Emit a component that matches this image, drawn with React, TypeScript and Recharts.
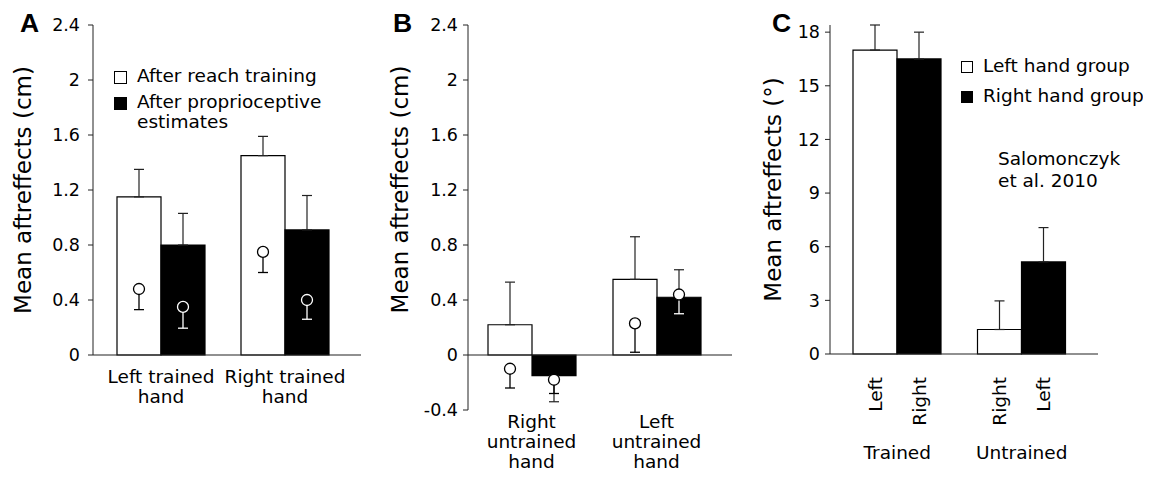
import React from 'react';
import {
  ComposedChart,
  Bar,
  XAxis,
  YAxis,
  ErrorBar,
  LabelList,
  ReferenceLine,
  Legend,
} from 'recharts';

const SANS = '"DejaVu Sans", sans-serif';
const ARIAL = '"Liberation Sans", Arial, sans-serif';
const INK = '#222';
const BAR_W = 44;

// panel A: trained hand
const groupsA = ['Left trained\nhand', 'Right trained\nhand'];
const reachA = [1.15, 1.45];
const reachErrA = [0.2, 0.14];
const propA = [0.8, 0.91];
const propErrA = [0.23, 0.25];
const reachDotA = [0.48, 0.75];
const reachDotErrA = [0.15, 0.15];
const propDotA = [0.35, 0.4];
const propDotErrA = [0.155, 0.14];
const ticksA = [0, 0.4, 0.8, 1.2, 1.6, 2, 2.4];
const legendA = ['After reach training', 'After proprioceptive\nestimates'];

// panel B: untrained hand
const groupsB = ['Right\nuntrained\nhand', 'Left\nuntrained\nhand'];
const reachB = [0.22, 0.55];
const reachErrB = [0.31, 0.31];
const propB = [-0.15, 0.42];
const propErrB = [0.19, 0.2];
const reachDotB = [-0.1, 0.23];
const reachDotErrB = [0.14, 0.21];
const propDotB = [-0.18, 0.44];
const propDotErrB = [0.1, 0.14];
const ticksB = [-0.4, 0, 0.4, 0.8, 1.2, 1.6, 2, 2.4];

// panel C: Salomonczyk et al. 2010
const groupsC = ['Trained', 'Untrained'];
const handsC = [
  ['Left', 'Right'],
  ['Right', 'Left'],
];
const leftGroupC = [17.0, 1.37];
const leftGroupErrC = [1.4, 1.6];
const rightGroupC = [16.5, 5.15];
const rightGroupErrC = [1.5, 1.92];
const ticksC = [0, 3, 6, 9, 12, 15, 18];
const legendC = ['Left hand group', 'Right hand group'];
const noteC = ['Salomonczyk', 'et al. 2010'];

const upErr = (v: number, e: number) => (v >= 0 ? [0, e] : [e, 0]);
const within = (v: number, bar: number) =>
  bar >= 0 ? v >= 0 && v <= bar : v <= 0 && v >= bar;

// dot fields, split by whether the dot / its whisker sits inside its bar
function dotFields(key: string, v: number, e: number, bar: number) {
  const inside = within(v, bar);
  const errIn = within(v - e, bar);
  return {
    [key]: v,
    [key + 'In']: inside ? v : null,
    [key + 'Out']: inside ? null : v,
    [key + 'ErrIn']: errIn ? [e, 0] : null,
    [key + 'ErrOut']: errIn ? null : [e, 0],
  };
}

function buildRows(groups: string[], reach: number[], reachErr: number[], prop: number[], propErr: number[],
  reachDot: number[], reachDotErr: number[], propDot: number[], propDotErr: number[]) {
  return groups.map((group, i) => ({
    group,
    reach: reach[i],
    reachErr: upErr(reach[i], reachErr[i]),
    prop: prop[i],
    propErr: upErr(prop[i], propErr[i]),
    ...dotFields('reachDot', reachDot[i], reachDotErr[i], reach[i]),
    ...dotFields('propDot', propDot[i], propDotErr[i], prop[i]),
  }));
}

const rowsA = buildRows(groupsA, reachA, reachErrA, propA, propErrA, reachDotA, reachDotErrA, propDotA, propDotErrA);
const rowsB = buildRows(groupsB, reachB, reachErrB, propB, propErrB, reachDotB, reachDotErrB, propDotB, propDotErrB);
const rowsC = groupsC.map((group, i) => ({
  group,
  left: leftGroupC[i],
  leftErr: upErr(leftGroupC[i], leftGroupErrC[i]),
  right: rightGroupC[i],
  rightErr: upErr(rightGroupC[i], rightGroupErrC[i]),
}));

const noShape = () => <g />;

// circle drawn as a label so it sits above every error bar
function dotLabel(fill: string, stroke: string) {
  return (props: any) => {
    if (props.value == null || props.value === '') return null;
    const v = Number(props.value);
    if (Number.isNaN(v)) return null;
    const vb = props.viewBox || props;
    const h = vb.height;
    const cy = v >= 0 ? (h >= 0 ? vb.y : vb.y + h) : h < 0 ? vb.y : vb.y + h;
    const cx = vb.x + vb.width / 2;
    return <circle cx={cx} cy={cy} r={5.5} fill={fill} stroke={stroke} strokeWidth={1.3} />;
  };
}

function AxisTitle({ viewBox, text, dx, dy = 0 }: any) {
  const x = viewBox.x + dx;
  const y = viewBox.y + viewBox.height / 2 + dy;
  return (
    <text x={x} y={y} transform={`rotate(-90 ${x} ${y})`} textAnchor="middle" dominantBaseline="central"
      fontFamily={SANS} fontSize={23} fill="#000">
      {text}
    </text>
  );
}

function StackedTick({ x, y, payload, offsets }: any) {
  const lines = String(payload.value).split('\n');
  return (
    <text x={x} y={y} textAnchor="middle" fontFamily={SANS} fontSize={18.5} fill="#000">
      {lines.map((line, i) => (
        <tspan key={i} x={x} dy={offsets[Math.min(i, offsets.length - 1)]}>
          {line}
        </tspan>
      ))}
    </text>
  );
}

function HandTick({ x, y, payload }: any) {
  const hands = handsC[groupsC.indexOf(payload.value)] || [];
  return (
    <g>
      {hands.map((hand, k) => {
        const hx = x + (k === 0 ? -BAR_W / 2 : BAR_W / 2);
        const hy = y + 23;
        return (
          <text key={k} x={hx} y={hy} transform={`rotate(-90 ${hx} ${hy})`} textAnchor="end"
            dominantBaseline="central" fontFamily={SANS} fontSize={18.5} fill="#000">
            {hand}
          </text>
        );
      })}
      <text x={x} y={y + 105} textAnchor="middle" fontFamily={SANS} fontSize={18.5} fill="#000">
        {payload.value}
      </text>
    </g>
  );
}

function SquareLegend({ labels, size, gap }: { labels: string[]; size: number; gap: number }) {
  return (
    <div style={{ fontFamily: SANS, fontSize: 18.5, lineHeight: '20px', color: '#000' }}>
      {labels.map((label, i) => (
        <div key={label} style={{ display: 'flex', alignItems: 'flex-start', marginBottom: gap }}>
          <div
            style={{
              width: size,
              height: size,
              marginTop: 5.4,
              marginRight: 10,
              boxSizing: 'border-box',
              border: '1px solid #000',
              background: i === 0 ? '#fff' : '#000',
              flex: 'none',
            }}
          />
          <div style={{ whiteSpace: 'pre' }}>{label}</div>
        </div>
      ))}
    </div>
  );
}

const yTick = { fontFamily: SANS, fontSize: 17.5, fill: '#000' };

function HandPanel({ rows, width, yWidth, right, xHeight, padding, domain, ticks, tickMargin, titleDx, titleDy,
  offsets, children }: any) {
  return (
    <ComposedChart width={width} height={477} data={rows} margin={{ top: 25, right, bottom: 0, left: 0 }} barGap={0}>
      <XAxis dataKey="group" height={xHeight} axisLine={false} tickLine={false} tickSize={0} tickMargin={0}
        padding={padding} interval={0} tick={<StackedTick offsets={offsets} />} />
      <XAxis xAxisId="err" dataKey="group" hide padding={padding} />
      <XAxis xAxisId="dot" dataKey="group" hide padding={padding} />
      <XAxis xAxisId="dot2" dataKey="group" hide padding={padding} />
      <YAxis width={yWidth} type="number" domain={domain} ticks={ticks} interval={0} tick={yTick}
        tickSize={5} tickMargin={tickMargin} axisLine={{ stroke: INK }} tickLine={{ stroke: INK }}
        label={<AxisTitle text="Mean aftreffects (cm)" dx={titleDx} dy={titleDy} />} />
      <ReferenceLine y={0} stroke={INK} strokeWidth={1.2} />
      <Bar dataKey="reach" fill="#fff" stroke="#000" strokeWidth={1.2} barSize={BAR_W} isAnimationActive={false}>
        <ErrorBar dataKey="reachErr" width={5} stroke={INK} strokeWidth={1.2} isAnimationActive={false} />
      </Bar>
      <Bar dataKey="prop" fill="#000" stroke="#000" strokeWidth={1.2} barSize={BAR_W} isAnimationActive={false}>
        <ErrorBar dataKey="propErr" width={5} stroke={INK} strokeWidth={1.2} isAnimationActive={false} />
      </Bar>
      <Bar xAxisId="err" dataKey="reachDot" fill="none" barSize={BAR_W} shape={noShape} isAnimationActive={false}>
        <ErrorBar dataKey="reachDotErrIn" width={5} stroke="#000" strokeWidth={1.3} isAnimationActive={false} />
        <ErrorBar dataKey="reachDotErrOut" width={5} stroke="#000" strokeWidth={1.3} isAnimationActive={false} />
      </Bar>
      <Bar xAxisId="err" dataKey="propDot" fill="none" barSize={BAR_W} shape={noShape} isAnimationActive={false}>
        <ErrorBar dataKey="propDotErrIn" width={5} stroke="#fff" strokeWidth={1.3} isAnimationActive={false} />
        <ErrorBar dataKey="propDotErrOut" width={5} stroke="#000" strokeWidth={1.3} isAnimationActive={false} />
      </Bar>
      <Bar xAxisId="dot" dataKey="reachDot" fill="none" barSize={BAR_W} shape={noShape} isAnimationActive={false}>
        <LabelList dataKey="reachDot" content={dotLabel('#fff', '#000')} />
      </Bar>
      <Bar xAxisId="dot" dataKey="propDotIn" fill="none" barSize={BAR_W} shape={noShape} isAnimationActive={false}>
        <LabelList dataKey="propDotIn" content={dotLabel('#000', '#fff')} />
      </Bar>
      <Bar xAxisId="dot2" dataKey="reachDot" fill="none" barSize={BAR_W} shape={noShape} isAnimationActive={false} />
      <Bar xAxisId="dot2" dataKey="propDotOut" fill="none" barSize={BAR_W} shape={noShape} isAnimationActive={false}>
        <LabelList dataKey="propDotOut" content={dotLabel('#fff', '#000')} />
      </Bar>
      {children}
    </ComposedChart>
  );
}

const letterStyle = (left: number): React.CSSProperties => ({
  position: 'absolute',
  left,
  top: 10,
  fontFamily: ARIAL,
  fontWeight: 'bold',
  fontSize: 26.5,
  lineHeight: '26.5px',
  color: '#000',
});

export default function App() {
  return (
    <div style={{ position: 'relative', width: 1151, height: 477, margin: -8, background: '#fff', overflow: 'hidden' }}>
      <div style={{ position: 'absolute', left: 0, top: 0 }}>
        <HandPanel rows={rowsA} width={380} yWidth={93} right={19} xHeight={122} padding={{ left: 6, right: 14 }}
          domain={[0, 2.4]} ticks={ticksA} tickMargin={8} titleDx={23} titleDy={0} offsets={[28, 20]}>
          <Legend layout="vertical" align="center" verticalAlign="middle"
            wrapperStyle={{ top: 65.6, left: 114, width: 260 }}
            content={() => <SquareLegend labels={legendA} size={13} gap={6} />} />
        </HandPanel>
      </div>
      <div style={{ position: 'absolute', left: 380, top: 0 }}>
        <HandPanel rows={rowsB} width={360} yWidth={88} right={8} xHeight={67} padding={{ left: 1, right: 13 }}
          domain={[-0.4, 2.4]} ticks={ticksB} tickMargin={5} titleDx={20} titleDy={-28} offsets={[18, 20]} />
      </div>
      <div style={{ position: 'absolute', left: 740, top: 0 }}>
        <ComposedChart width={411} height={477} data={rowsC} margin={{ top: 25, right: 53, bottom: 0, left: 0 }}
          barGap={0}>
          <XAxis dataKey="group" height={123} axisLine={false} tickLine={false} tickSize={0} tickMargin={0}
            padding={{ left: 5, right: 14 }} interval={0} tick={<HandTick />} />
          <YAxis width={90} type="number" domain={[0, 18]} ticks={ticksC} interval={0} tick={yTick} tickSize={5}
            tickMargin={5} axisLine={{ stroke: INK }} tickLine={{ stroke: INK }}
            label={<AxisTitle text="Mean aftreffects (°)" dx={33} dy={0} />} />
          <ReferenceLine y={0} stroke={INK} strokeWidth={1.2} />
          <Bar dataKey="left" fill="#fff" stroke="#000" strokeWidth={1.2} barSize={BAR_W} isAnimationActive={false}>
            <ErrorBar dataKey="leftErr" width={5} stroke={INK} strokeWidth={1.2} isAnimationActive={false} />
          </Bar>
          <Bar dataKey="right" fill="#000" stroke="#000" strokeWidth={1.2} barSize={BAR_W} isAnimationActive={false}>
            <ErrorBar dataKey="rightErr" width={5} stroke={INK} strokeWidth={1.2} isAnimationActive={false} />
          </Bar>
          <Legend layout="vertical" align="center" verticalAlign="middle"
            wrapperStyle={{ top: 55.6, left: 221, width: 190 }}
            content={() => <SquareLegend labels={legendC} size={12} gap={10} />} />
        </ComposedChart>
      </div>
      <div
        style={{
          position: 'absolute',
          left: 998,
          top: 147.5,
          fontFamily: SANS,
          fontSize: 18.5,
          lineHeight: '22px',
          color: '#000',
        }}
      >
        {noteC.map((line) => (
          <div key={line}>{line}</div>
        ))}
      </div>
      <div style={letterStyle(20)}>A</div>
      <div style={letterStyle(393)}>B</div>
      <div style={letterStyle(772)}>C</div>
    </div>
  );
}
